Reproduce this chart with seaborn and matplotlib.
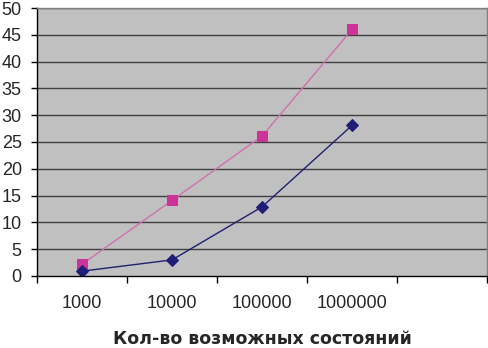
import numpy as np
import pandas as pd
import matplotlib
matplotlib.use("Agg")
import matplotlib.pyplot as plt
import seaborn as sns

# values
categories = ["1000", "10000", "100000", "1000000"]
series_low = [0.9, 3.0, 12.9, 28.1]
series_high = [2.2, 14.1, 26.1, 46.0]
y_ticks = [0, 5, 10, 15, 20, 25, 30, 35, 40, 45, 50]
x_label = "Кол-во возможных состояний"

sns.set_style("white")
plt.rcParams["font.family"] = ["Liberation Sans", "DejaVu Sans"]

df = pd.DataFrame({
    "pos": np.arange(len(categories)),
    "low": series_low,
    "high": series_high,
})

fig = plt.figure(figsize=(4.88, 3.48), dpi=100)
ax = fig.add_axes([0.076, 0.207, 0.922, 0.770])
ax.set_facecolor("#C0C0C0")

sns.lineplot(data=df, x="pos", y="high", ax=ax, color="#D070B0", lw=1.0,
             marker="s", markersize=7.5, markerfacecolor="#CC3399",
             markeredgecolor="#CC3399")
sns.lineplot(data=df, x="pos", y="low", ax=ax, color="#202070", lw=1.0,
             marker="D", markersize=6.5, markerfacecolor="#1E1E78",
             markeredgecolor="#1E1E78")

ax.set_xlim(-0.5, 4.5)
ax.set_ylim(0, 50)
ax.set_yticks(y_ticks)
ax.set_yticklabels([str(v) for v in y_ticks], fontsize=13)
for v in y_ticks[1:]:
    ax.axhline(v, color="#404040", lw=1.0, zorder=0.5)

# category boundaries as ticks, labels at centres
ax.set_xticks(np.arange(-0.5, 5.0, 1.0))
ax.set_xticklabels([])
ax.set_xticks(np.arange(len(categories)), minor=True)
ax.set_xticklabels(categories, minor=True, fontsize=13)
ax.tick_params(axis="x", which="major", direction="out", length=5, width=1, color="black", bottom=True)
ax.tick_params(axis="x", which="minor", length=0, pad=14)
ax.tick_params(axis="y", direction="out", length=4, width=1, color="black", left=True, pad=7)

ax.set_xlabel(x_label, fontsize=12.5, fontweight="bold", labelpad=13,
              family=["DejaVu Sans"])
ax.set_ylabel("")

for side in ["left", "bottom"]:
    ax.spines[side].set_color("black")
    ax.spines[side].set_linewidth(1.0)
for side in ["top", "right"]:
    ax.spines[side].set_color("#808080")
    ax.spines[side].set_linewidth(1.0)

fig.savefig("out.png", dpi=100)
